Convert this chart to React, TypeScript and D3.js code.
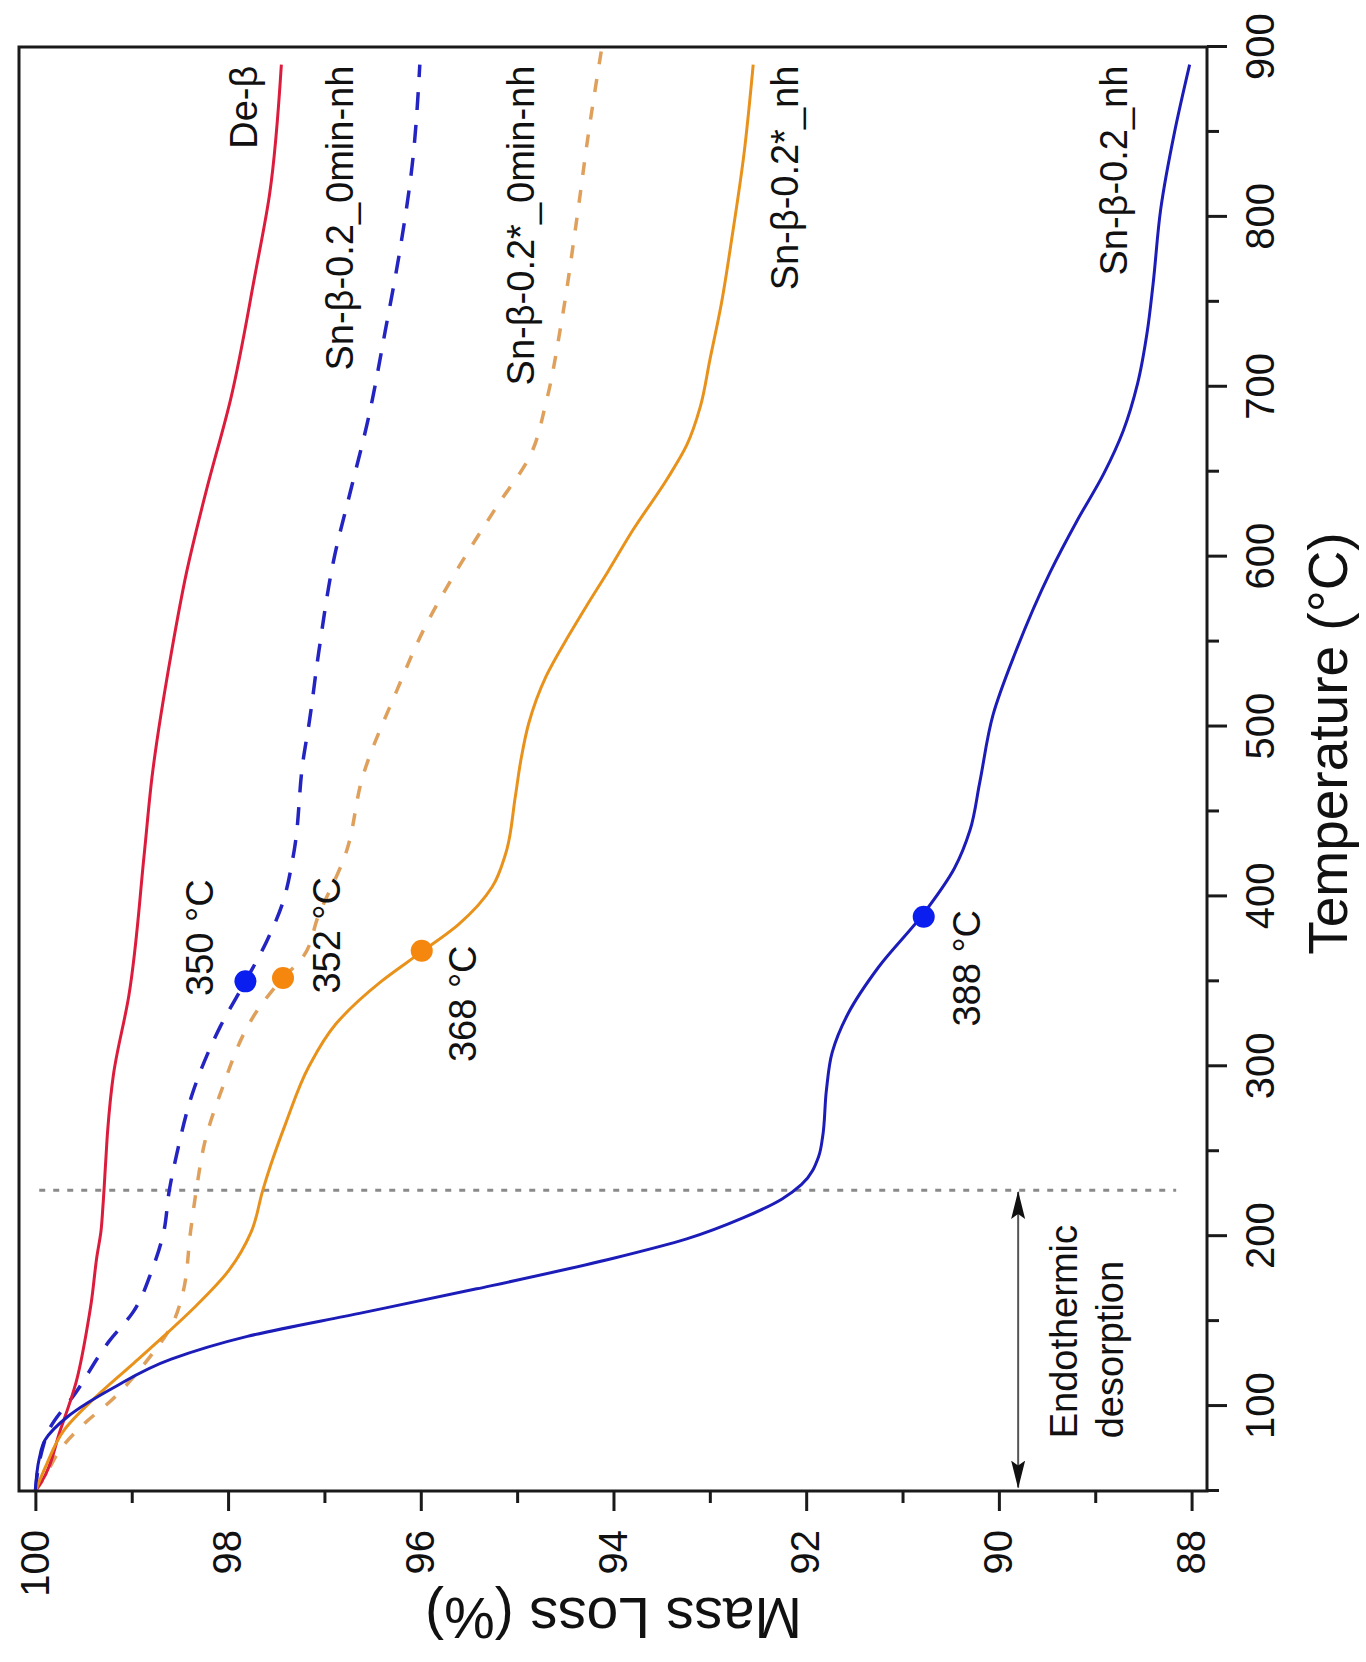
import React, { useRef, useEffect } from "react";
import * as d3 from "d3";

const deBetaTemp = [50, 55, 86, 113.5, 147, 161, 188.6, 202.5, 216.6, 244, 262, 295, 341.5, 425, 470, 543, 591, 638, 693.5, 766, 813, 889.6];
const deBetaMass = [100, 99.94, 99.74, 99.58, 99.46, 99.42, 99.36, 99.32, 99.3, 99.27, 99.25, 99.19, 99.03, 98.87, 98.79, 98.59, 98.43, 98.23, 97.97, 97.72, 97.57, 97.447];

const sn02MinTemp = [50, 71.8, 85.8, 108, 138.5, 155, 180, 202, 227, 249, 284, 323.5, 350, 373.5, 395, 425, 480.6, 501.6, 543.4, 599, 640.7, 682.4, 732.5, 782.6, 830, 889.6];
const sn02MinMass = [100, 99.94, 99.86, 99.58, 99.23, 98.99, 98.79, 98.67, 98.61, 98.53, 98.37, 98.08, 97.82, 97.6, 97.44, 97.32, 97.22, 97.16, 97.06, 96.9, 96.72, 96.54, 96.37, 96.21, 96.09, 96.01];

const sn02sMinTemp = [50, 55, 77.5, 91.3, 102.4, 127.6, 147, 166.4, 202.5, 227, 258, 284, 335, 352, 363, 389, 425, 471, 521, 557, 593.5, 629.6, 660, 690.7, 738, 799, 849, 900];
const sn02sMinMass = [100, 99.94, 99.7, 99.46, 99.23, 98.83, 98.59, 98.47, 98.39, 98.33, 98.23, 98.08, 97.67, 97.43, 97.24, 97.06, 96.78, 96.6, 96.25, 95.97, 95.61, 95.21, 94.86, 94.7, 94.54, 94.38, 94.26, 94.12];

const sn02sTemp = [50, 63.6, 86, 105, 124.7, 141, 158, 180, 202.5, 227, 241.4, 266.7, 300, 325, 350, 366.6, 383.4, 405.5, 425, 458.3, 480.6, 501.8, 529.5, 554, 571, 591, 615.5, 646, 665.6, 688, 715.7, 749, 788, 835, 889.6];
const sn02sMass = [100, 99.9, 99.7, 99.38, 98.99, 98.67, 98.35, 97.99, 97.76, 97.64, 97.56, 97.4, 97.16, 96.88, 96.41, 96.01, 95.61, 95.26, 95.12, 95.02, 94.96, 94.88, 94.7, 94.46, 94.28, 94.06, 93.8, 93.44, 93.24, 93.1, 93.0, 92.88, 92.77, 92.65, 92.55];

const sn02Temp = [50, 69, 80, 94, 110.8, 127.6, 141, 155, 169, 187, 198.4, 210.9, 221.9, 230.3, 247, 258.2, 286, 308.2, 330.5, 358.3, 390, 416.7, 438.9, 466.7, 507, 543.4, 590.6, 621, 649, 674, 702, 732.5, 760.3, 804.7, 849, 889.6];
const sn02Mass = [100, 99.96, 99.9, 99.66, 99.19, 98.59, 97.8, 96.6, 95.42, 94.0, 93.24, 92.65, 92.25, 92.05, 91.87, 91.83, 91.79, 91.73, 91.57, 91.25, 90.78, 90.46, 90.3, 90.2, 90.06, 89.83, 89.47, 89.19, 88.91, 88.71, 88.56, 88.46, 88.4, 88.32, 88.18, 88.02];

// onset points
const onsetTemps = [350, 352, 368, 388];
const onsetMass = [97.82, 97.43, 95.99, 90.78];
const onsetLabels = ["350 °C", "352 °C", "368 °C", "388 °C"];

// axis ticks
const tempMajor = [100, 200, 300, 400, 500, 600, 700, 800, 900];
const tempMinor = [50, 150, 250, 350, 450, 550, 650, 750, 850];
const massMajor = [100, 98, 96, 94, 92, 90, 88];
const massMinor = [99, 97, 95, 93, 91, 89];

const desorptionLimit = 227;

const FONT = '"Liberation Sans", Arial, Helvetica, sans-serif';

const App = () => {
  const svgRef = useRef<SVGSVGElement>(null);

  useEffect(() => {
    const svg = d3.select(svgRef.current);
    svg.selectAll("*").remove();

    // plot frame in page pixels; the chart is drawn upright then turned 90° ccw
    const frame = { left: 19, top: 47, right: 1207, bottom: 1491 };
    const W = frame.bottom - frame.top;
    const H = frame.right - frame.left;

    const x = d3.scaleLinear().domain([50, 900]).range([0, W]);
    const y = d3.scaleLinear().domain([100.17, 87.84]).range([0, H]);

    const defs = svg.append("defs");
    defs.append("clipPath").attr("id", "plotClip")
      .append("rect").attr("width", W).attr("height", H);
    defs.append("marker")
      .attr("id", "arrowHead")
      .attr("viewBox", "0 0 28 16")
      .attr("refX", 27).attr("refY", 8)
      .attr("markerWidth", 28).attr("markerHeight", 16)
      .attr("markerUnits", "userSpaceOnUse")
      .attr("orient", "auto-start-reverse")
      .append("path").attr("d", "M0,1 L28,8 L0,15 L5,8 z").attr("fill", "#111");

    const g = svg.append("g")
      .attr("transform", `translate(${frame.left},${frame.bottom}) rotate(-90)`);

    // axes
    const styleAxis = (sel, size) => {
      sel.select(".domain").remove();
      sel.selectAll("line").attr("stroke", "#1a1a1a").attr("stroke-width", 3);
      sel.selectAll("text")
        .attr("font-family", FONT)
        .attr("font-size", size)
        .attr("fill", "#111");
    };

    styleAxis(g.append("g").attr("transform", `translate(0,${H})`)
      .call(d3.axisBottom(x).tickValues(tempMajor).tickSize(20).tickPadding(19)), 40);
    styleAxis(g.append("g").attr("transform", `translate(0,${H})`)
      .call(d3.axisBottom(x).tickValues(tempMinor).tickSize(12).tickFormat(() => "")), 40);
    styleAxis(g.append("g")
      .call(d3.axisLeft(y).tickValues(massMajor).tickSize(20).tickPadding(19)), 40);
    styleAxis(g.append("g")
      .call(d3.axisLeft(y).tickValues(massMinor).tickSize(12).tickFormat(() => "")), 40);

    // endothermic desorption limit + arrow
    g.append("line")
      .attr("x1", x(desorptionLimit)).attr("x2", x(desorptionLimit))
      .attr("y1", y(99.96)).attr("y2", y(88.16))
      .attr("stroke", "#8a8a8a").attr("stroke-width", 3)
      .attr("stroke-dasharray", "6 8");

    g.append("line")
      .attr("x1", x(52)).attr("x2", x(desorptionLimit - 1))
      .attr("y1", y(89.8)).attr("y2", y(89.8))
      .attr("stroke", "#555").attr("stroke-width", 2)
      .attr("marker-start", "url(#arrowHead)")
      .attr("marker-end", "url(#arrowHead)");

    // curves
    const line = d3.line<[number, number]>()
      .x(d => x(d[0]))
      .y(d => y(d[1]))
      .curve(d3.curveMonotoneX);

    const curves = [
      { temp: sn02sMinTemp, mass: sn02sMinMass, color: "#dfa05c", width: 3.5, dash: "13 15" },
      { temp: sn02MinTemp, mass: sn02MinMass, color: "#2424c2", width: 3.5, dash: "18 15" },
      { temp: deBetaTemp, mass: deBetaMass, color: "#dc1c3c", width: 3, dash: null },
      { temp: sn02sTemp, mass: sn02sMass, color: "#e8921c", width: 3, dash: null },
      { temp: sn02Temp, mass: sn02Mass, color: "#1c1cb8", width: 3, dash: null },
    ];

    const plot = g.append("g").attr("clip-path", "url(#plotClip)");
    curves.forEach(c => {
      plot.append("path")
        .datum(d3.zip(c.temp, c.mass) as [number, number][])
        .attr("d", line)
        .attr("fill", "none")
        .attr("stroke", c.color)
        .attr("stroke-width", c.width)
        .attr("stroke-dasharray", c.dash);
    });

    const onsetColors = ["#0a1ef0", "#f5870f", "#f5870f", "#0a1ef0"];
    plot.selectAll("circle")
      .data(onsetTemps)
      .join("circle")
      .attr("cx", d => x(d))
      .attr("cy", (d, i) => y(onsetMass[i]))
      .attr("r", 11)
      .attr("fill", (d, i) => onsetColors[i]);

    // text
    const textStyle = sel => sel.attr("font-family", FONT).attr("font-size", 38).attr("fill", "#111");

    const curveLabels = [
      { text: "De-β", t: 889, m: 97.7 },
      { text: "Sn-β-0.2_0min-nh", t: 889, m: 96.7 },
      { text: "Sn-β-0.2*_0min-nh", t: 889, m: 94.83 },
      { text: "Sn-β-0.2*_nh", t: 889, m: 92.09 },
      { text: "Sn-β-0.2_nh", t: 889, m: 88.67 },
    ];
    g.selectAll(".curve-label")
      .data(curveLabels)
      .join("text")
      .attr("class", "curve-label")
      .attr("x", d => x(d.t))
      .attr("y", d => y(d.m))
      .attr("text-anchor", "end")
      .text(d => d.text)
      .call(textStyle);

    const onsetPos = [
      { t: 341.4, m: 98.16 },
      { t: 342.8, m: 96.84 },
      { t: 302.5, m: 95.43 },
      { t: 323.4, m: 90.2 },
    ];
    g.selectAll(".onset-label")
      .data(onsetLabels)
      .join("text")
      .attr("class", "onset-label")
      .attr("x", (d, i) => x(onsetPos[i].t))
      .attr("y", (d, i) => y(onsetPos[i].m))
      .text(d => d)
      .call(textStyle);

    g.append("text").attr("x", x(81)).attr("y", y(89.19)).text("Endothermic").call(textStyle);
    g.append("text").attr("x", x(81)).attr("y", y(88.71)).text("desorption").call(textStyle);

    // axis titles
    g.append("text")
      .attr("x", x(490))
      .attr("y", H + 140)
      .attr("text-anchor", "middle")
      .attr("font-family", FONT)
      .attr("font-size", 55)
      .attr("fill", "#111")
      .text("Temperature (°C)");

    g.append("text")
      .attr("transform", `translate(-107,${y(94.0)}) rotate(-90)`)
      .attr("text-anchor", "middle")
      .attr("font-family", FONT)
      .attr("font-size", 57)
      .attr("fill", "#111")
      .text("Mass Loss (%)");

    // frame
    g.append("rect")
      .attr("width", W)
      .attr("height", H)
      .attr("fill", "none")
      .attr("stroke", "#1a1a1a")
      .attr("stroke-width", 3);
  }, []);

  return (
    <svg
      ref={svgRef}
      width={1366}
      height={1662}
      style={{ position: "absolute", left: 0, top: 0, background: "#fff" }}
    />
  );
};

export default App;
